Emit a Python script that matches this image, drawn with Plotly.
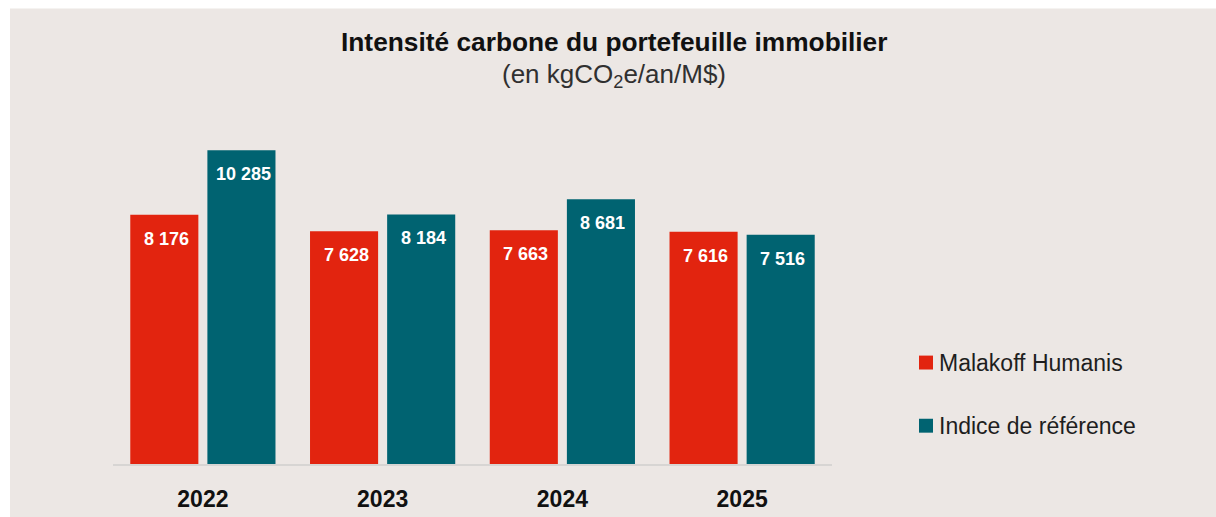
import plotly.graph_objects as go

# Carbon intensity of the real-estate portfolio (kgCO2e/yr/M$)
years = ["2022", "2023", "2024", "2025"]
malakoff = [8176, 7628, 7663, 7616]
reference = [10285, 8184, 8681, 7516]
series_names = ["Malakoff Humanis", "Indice de référence"]

RED = "#E2240F"
TEAL = "#006371"
BG = "#ECE7E4"
FONT = "Liberation Sans, Arial, Helvetica, sans-serif"

W, H = 1216, 524
M_L, M_R, M_T, M_B = 113, 384, 98, 58
PLOT_W = W - M_L - M_R
PLOT_H = H - M_T - M_B
Y_MAX = 12000


def px_x(px):
    """Horizontal pixel position -> paper coordinate."""
    return (px - M_L) / PLOT_W


def px_y(py):
    """Vertical pixel position -> paper coordinate."""
    return (H - M_B - py) / PLOT_H


def fmt(v):
    return f"{v:,}".replace(",", " ")


fig = go.Figure()
for name, vals, color in zip(series_names, [malakoff, reference], [RED, TEAL]):
    fig.add_trace(go.Bar(
        x=years, y=vals, name=name, marker=dict(color=color, line=dict(width=0)),
        showlegend=False, hoverinfo="x+y+name",
    ))

BARGAP = 0.142
GROUPGAP = 0.117
slot = PLOT_W / len(years) * (1 - BARGAP) / 2
annotations = []
for vals, sign in [(malakoff, -1), (reference, 1)]:
    for i, v in enumerate(vals):
        # category index on the x axis, shifted onto the grouped bar
        annotations.append(dict(
            x=i, y=v, xref="x", yref="y", text=f"<b>{fmt(v)}</b>",
            showarrow=False, xshift=sign * slot / 2 + 2, yshift=-24,
            yanchor="middle", xanchor="center",
            font=dict(family=FONT, size=18, color="white"),
        ))

# Title and unit line
annotations.append(dict(
    x=px_x(614), y=px_y(42), xref="paper", yref="paper",
    text="<b>Intensité carbone du portefeuille immobilier</b>",
    showarrow=False, xanchor="center", yanchor="middle",
    font=dict(family=FONT, size=26.3, color="#111111"),
))
annotations.append(dict(
    x=px_x(614), y=px_y(75), xref="paper", yref="paper",
    text="(en kgCO<sub>2</sub>e/an/M$)",
    showarrow=False, xanchor="center", yanchor="middle",
    font=dict(family=FONT, size=26, color="#303030"),
))

# Background panel and legend entries
shapes = [dict(
    type="rect", xref="paper", yref="paper", layer="below",
    x0=px_x(10), x1=px_x(W + 5), y0=px_y(H + 5), y1=px_y(8),
    fillcolor=BG, line=dict(width=0),
)]
for name, color, cy in zip(series_names, [RED, TEAL], [364, 427.5]):
    shapes.append(dict(
        type="rect", xref="paper", yref="paper",
        x0=px_x(919), x1=px_x(933), y0=px_y(cy + 7), y1=px_y(cy - 7),
        fillcolor=color, line=dict(width=0),
    ))
    annotations.append(dict(
        x=px_x(937), y=px_y(cy), xref="paper", yref="paper", text=name,
        showarrow=False, xanchor="left", yanchor="middle",
        font=dict(family=FONT, size=23, color="#1E1E1E"),
    ))

fig.update_layout(
    width=W, height=H, autosize=False,
    margin=dict(l=M_L, r=M_R, t=M_T, b=M_B, pad=0),
    paper_bgcolor="white", plot_bgcolor="rgba(0,0,0,0)",
    barmode="group", bargap=BARGAP, bargroupgap=GROUPGAP,
    showlegend=False,
    annotations=annotations, shapes=shapes,
    font=dict(family=FONT),
    xaxis=dict(
        type="category", range=[-0.5, len(years) - 0.5],
        showline=True, linecolor="#D7D5D3", linewidth=2,
        showgrid=False, ticks="", ticklabelstandoff=13,
        tickfont=dict(family=FONT, size=23, color="#111111"),
        tickprefix="<b>", ticksuffix="</b>", fixedrange=True,
    ),
    yaxis=dict(
        range=[0, Y_MAX], visible=False, showgrid=False, zeroline=False,
        fixedrange=True,
    ),
)

fig.write_html("out.html", config={"responsive": False, "displayModeBar": False})
